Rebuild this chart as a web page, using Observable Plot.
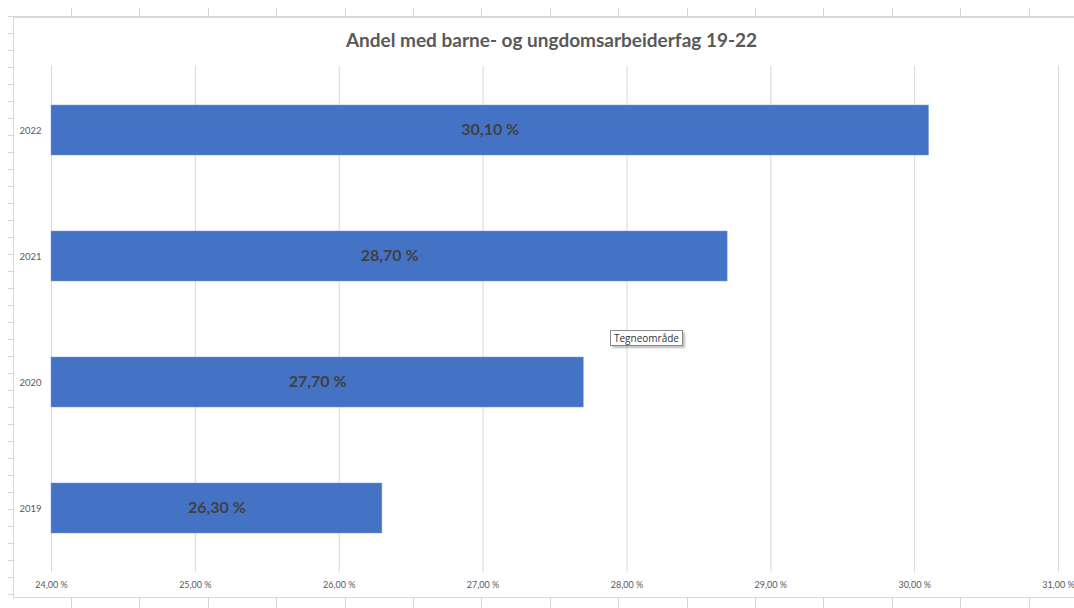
<!DOCTYPE html>
<html>
<head>
<meta charset="utf-8">
<script src="https://cdn.jsdelivr.net/npm/d3@7"></script>
<script src="https://cdn.jsdelivr.net/npm/@observablehq/plot@0.6"></script>
<style>
  html, body { margin: 0; padding: 0; background: #ffffff; }
  #page { position: relative; width: 1074px; height: 608px; overflow: hidden; background: #fff; font-family: Lato, "Open Sans", sans-serif; }
  #frame { position: absolute; left: 13px; top: 17px; width: 1061px; height: 581px; background: #fff;
    border-left: 1px solid #d9d9d9; border-top: 1px solid #d9d9d9; border-bottom: 1px solid #d9d9d9; box-sizing: border-box; }
  #title { position: absolute; left: 0; top: 0; width: 1061px; height: 40px; padding-top: 11px; box-sizing: border-box;
    text-align: center; font-family: Lato, "Open Sans", sans-serif; font-weight: 700; font-size: 19px; line-height: 22px; color: #595959; padding-left: 14px; }
  #chart { position: absolute; left: -1px; top: 39px; }
  #chart svg { overflow: visible; }
  #tip { position: absolute; left: 610px; top: 330px; padding: 0 3px; height: 14px; line-height: 14px; font-size: 10px;
    font-family: "Open Sans", sans-serif; color: #333; background: #fff; border: 1px solid #8a8a8a; box-shadow: 2px 2px 2px rgba(0,0,0,0.25); }
</style>
</head>
<body>
<div id="page">
  <svg width="1074" height="608" style="position:absolute;left:0;top:0" id="deco"></svg>
  <div id="frame">
    <div id="title">Andel med barne- og ungdomsarbeiderfag 19-22</div>
    <div id="chart"></div>
  </div>
  <div id="tip">Tegneområde</div>
</div>
<script>
// ---- data ----
const years = ["2022", "2021", "2020", "2019"];
const shares = [30.10, 28.70, 27.70, 26.30];
const xTicks = [24, 25, 26, 27, 28, 29, 30, 31];
const title = "Andel med barne- og ungdomsarbeiderfag 19-22";

const rows = years.map((y, i) => ({year: y, value: shares[i]}));
const xMin = xTicks[0], xMax = xTicks[xTicks.length - 1];
const fmt = v => v.toFixed(2).replace(".", ",") + " %";

// spreadsheet grid decoration (background, not data)
(function () {
  const s = d3.select("#deco");
  const c = "#d6d6d6";
  s.append("line").attr("x1", 8).attr("x2", 1074).attr("y1", 16.5).attr("y2", 16.5).attr("stroke", c);
  for (let x = 71; x < 1074; x += 68.4) {
    s.append("line").attr("x1", Math.round(x) + 0.5).attr("x2", Math.round(x) + 0.5).attr("y1", 8).attr("y2", 17).attr("stroke", c);
    s.append("line").attr("x1", Math.round(x) + 0.5).attr("x2", Math.round(x) + 0.5).attr("y1", 598).attr("y2", 608).attr("stroke", c);
  }
  for (let y = 33; y < 608; y += 17) {
    s.append("line").attr("x1", 8).attr("x2", 13).attr("y1", Math.round(y) + 0.5).attr("y2", Math.round(y) + 0.5).attr("stroke", c);
  }
})();

const chart = Plot.plot({
  width: 1061,
  height: 541,
  marginLeft: 38,
  marginRight: 16,
  marginTop: 8.7,
  marginBottom: 25.7,
  style: {fontFamily: "Lato, 'Open Sans', sans-serif", color: "#595959", background: "transparent", overflow: "visible"},
  x: {domain: [xMin, xMax], ticks: xTicks, tickFormat: fmt, label: null},
  y: {domain: years, paddingInner: 0.605, paddingOuter: 0.3025, label: null, align: 0.5},
  marks: [
    Plot.gridX(xTicks, {stroke: "#d9d9d9", strokeOpacity: 1, strokeWidth: 1}),
    Plot.barX(rows, {x1: () => xMin, x2: "value", y: "year", fill: "#4472C4", stroke: "#7a9bd8", strokeWidth: 0.5}),
    Plot.text(rows, {x: d => (xMin + d.value) / 2, y: "year", text: d => fmt(d.value), fill: "#404040", fontSize: 16, fontWeight: "bold", dy: -1}),
    Plot.axisX(xTicks, {tickSize: 0, tickPadding: 9, fontSize: 9, fill: "#595959", tickFormat: fmt, label: null}),
    Plot.axisY({tickSize: 0, tickPadding: 10, fontSize: 9.5, fill: "#595959", label: null})
  ]
});
document.getElementById("chart").appendChild(chart);
</script>
</body>
</html>
